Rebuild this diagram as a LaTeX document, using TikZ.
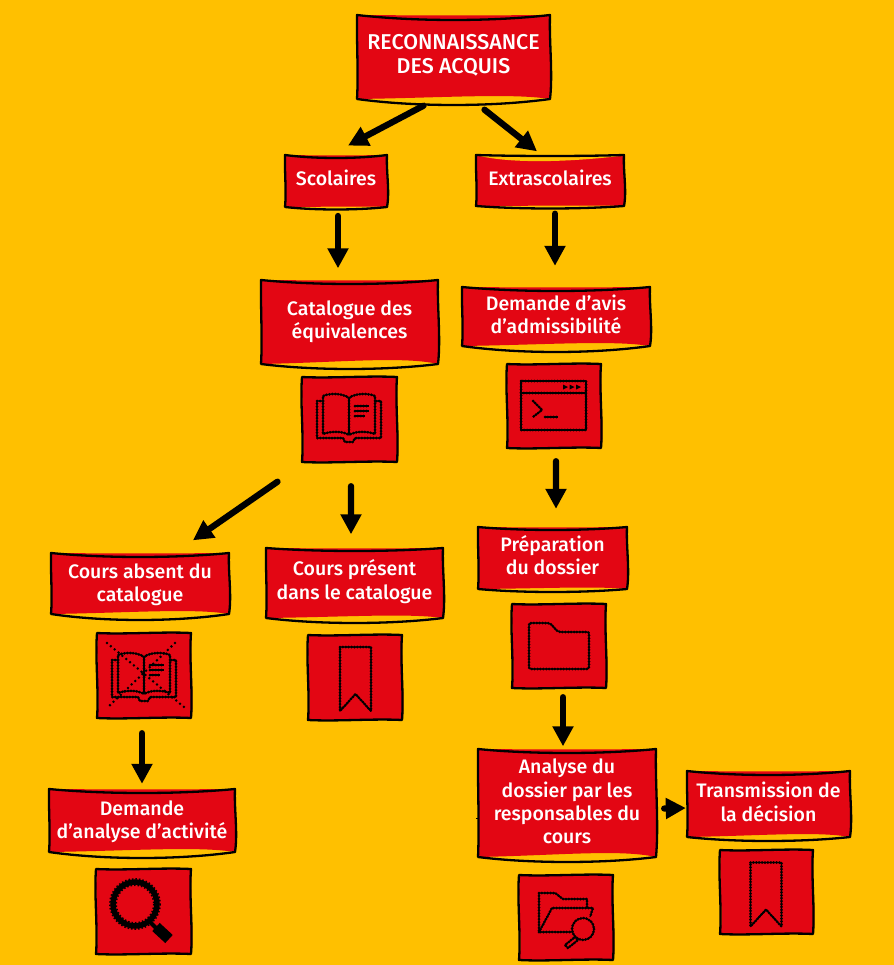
\documentclass[tikz,border=0pt]{standalone}
\usepackage{fontspec}
\setmainfont{Fira Sans Medium}
\usetikzlibrary{arrows.meta,calc}
\definecolor{bgy}{HTML}{FFC000}
\definecolor{redb}{HTML}{E30613}
\tikzset{
  outl/.style={draw=black,line width=2.3bp,line join=round},
  arr/.style={draw=black,line width=6.3bp,line cap=round,-{Triangle[width=20bp,length=20bp]}},
  ic/.style={draw=black,line width=1.2bp,line join=round,preaction={draw=black,line width=3bp,line cap=round,dash pattern=on 0pt off 2.9bp}},
  dotx/.style={draw=black,line width=2.8bp,line cap=round,dash pattern=on 0pt off 5bp},
  lab/.style={inner sep=0pt,align=center,text=white,font=\fontsize{19.6}{23.5}\selectfont},
  icn/.style={inner sep=0pt}
}
\let\lbhook\relax
\def\tdy{0}
\newcommand\bigt{\fontsize{21.5}{24}\selectfont}
% label box: name x1 y1 x2 y2 sagtop sagbottom lift text
\newcommand\lbox[9]{%
  \pgfmathsetmacro\ww{#4-#2}\pgfmathsetmacro\hh{#5-#3}%
  \pgfmathsetmacro\cx{(#4+#2)/2}\pgfmathsetmacro\cy{(#5+#3)/2}%
  \pgfmathsetmacro\ta{#2+.3*\ww}\pgfmathsetmacro\tb{#2+.7*\ww}%
  \pgfmathsetmacro\tc{#2+.45*\ww}\pgfmathsetmacro\td{#2+.8*\ww}%
  \pgfmathsetmacro\ya{#3+#6*1.33}\pgfmathsetmacro\yb{#5+#7*1.33}\pgfmathsetmacro\yc{#5-#8*2}\pgfmathsetmacro\ycc{#5-#8*.4}%
  \pgfmathsetmacro\yd{#3+.3*\hh}\pgfmathsetmacro\ye{#3+.7*\hh}%
  \pgfmathsetmacro\xr{#4+3}\pgfmathsetmacro\xq{#4-1}\pgfmathsetmacro\xl{#2+1.5}\pgfmathsetmacro\xm{#2-.5}%
  \pgfmathsetmacro\yf{#3+.5}\pgfmathsetmacro\xs{#4+3.5}%
  \fill[redb] (#2,#3) .. controls (\ta,\yf) and (\tb,\yf) .. (#4,#3)
     .. controls (\xq,\yd) and (\xs,\ye) .. (#4,#5)
     .. controls (\td,\yc) and (\tc,\ycc) .. (#2,#5) .. controls (\xl,\ye) and (\xm,\yd) .. (#2,#3) -- cycle;
  \lbhook
  \draw[outl] (#2,#3) .. controls (\ta,\ya) and (\tb,\ya) .. (#4,#3)
     .. controls (\xq,\yd) and (\xr,\ye) .. (#4,#5)
     .. controls (\tb,\yb) and (\ta,\yb) .. (#2,#5) .. controls (\xl,\ye) and (\xm,\yd) .. (#2,#3) -- cycle;
  \node[lab,minimum width=\ww bp,minimum height=\hh bp,yshift=\tdy bp] (#1) at (\cx,\cy) {#9};
}
% icon box: name x1 y1 x2 y2
\newcommand\ibox[5]{%
  \pgfmathsetmacro\ww{#4-#2}\pgfmathsetmacro\hh{#5-#3}%
  \pgfmathsetmacro\cx{(#4+#2)/2}\pgfmathsetmacro\cy{(#5+#3)/2}%
  \pgfmathsetmacro\ta{#2+.3*\ww}\pgfmathsetmacro\tb{#2+.7*\ww}%
  \pgfmathsetmacro\yd{#3+.3*\hh}\pgfmathsetmacro\ye{#3+.7*\hh}%
  \pgfmathsetmacro\yu{#3+1.5}\pgfmathsetmacro\yv{#3-1.5}\pgfmathsetmacro\yp{#5-1.5}\pgfmathsetmacro\yq{#5+1.5}%
  \pgfmathsetmacro\xa{#4-2}\pgfmathsetmacro\xb{#4+2}\pgfmathsetmacro\xc{#2+2}\pgfmathsetmacro\xd{#2-2}%
  \fill[redb,xshift=.8bp,yshift=.5bp] (#2,#3) .. controls (\ta,\yu) and (\tb,\yv) .. (#4,#3)
     .. controls (\xa,\yd) and (\xb,\ye) .. (#4,#5)
     .. controls (\tb,\yp) and (\ta,\yq) .. (#2,#5) .. controls (\xc,\ye) and (\xd,\yd) .. (#2,#3) -- cycle;
  \draw[outl] (#2,#3) .. controls (\ta,\yu) and (\tb,\yv) .. (#4,#3)
     .. controls (\xa,\yd) and (\xb,\ye) .. (#4,#5)
     .. controls (\tb,\yp) and (\ta,\yq) .. (#2,#5) .. controls (\xc,\ye) and (\xd,\yd) .. (#2,#3) -- cycle;
  \node[icn,minimum width=\ww bp,minimum height=\hh bp] (#1) at (\cx,\cy) {};
}
\newcommand\bookdraw{%
  \draw[ic] (0,-19) .. controls (-6,-24) and (-20,-24) .. (-26,-21) -- (-26,17) .. controls (-18,14) and (-6,14) .. (0,18);
  \draw[ic] (0,-19) .. controls (6,-24) and (20,-24) .. (26,-21) -- (26,17) .. controls (18,14) and (6,14) .. (0,18);
  \draw[ic] (0,-19) -- (0,18);
  \draw[ic] (-26,-16) -- (-32,-16) -- (-32,21) -- (-6,21) -- (-4,25) -- (4,25) -- (6,21) -- (32,21) -- (32,-16) -- (26,-16);
  \draw[ic] (6,-11) -- (20,-11) (6,-6) -- (20,-6) (6,-1) -- (16,-1);
}
\newcommand\bmdraw[1]{%
  \begin{scope}[shift={#1}]
  \draw[ic] (-15.5,-32) -- (15.5,-32) -- (15.5,32) -- (0,15) -- (-15.5,32) -- cycle;
  \end{scope}
}
\begin{document}
\begin{tikzpicture}[x=1bp,y=-1bp]
\useasboundingbox (0,0) rectangle (894,965);
\fill[bgy] (0,0) rectangle (894,965);

\def\tdy{1.5}
\lbox{rec}{357}{15}{550}{99}{5}{6}{3}{\bigt RECONNAISSANCE\\\bigt DES ACQUIS}
\def\tdy{3.2}
\lbox{sco}{285}{155}{387}{207}{3}{2.5}{.5}{Scolaires}
\def\lbhook{\fill[bgy] (476,155) .. controls (505,163) and (560,163) .. (620,156) -- cycle;}
\def\tdy{2.5}
\lbox{ext}{476}{155}{624}{206}{1}{2.5}{.5}{Extrascolaires}
\let\lbhook\relax
\def\tdy{.5}
\lbox{cat}{261}{280}{438}{364}{4}{5}{4}{Catalogue des\\équivalences}
\def\tdy{2}
\lbox{dem}{462}{287}{650}{346}{4}{6}{3}{Demande d’avis\\d’admissibilité}
\def\tdy{3}
\lbox{prep}{478}{527}{627}{589}{3}{3}{1.5}{Préparation\\du dossier}
\def\tdy{-1.5}
\lbox{abs}{51}{553}{229}{614}{4}{6}{3}{Cours absent du\\catalogue}
\def\tdy{1.5}
\lbox{pres}{266}{548}{443}{618}{3}{5}{2.5}{Cours présent\\dans le catalogue}
\def\tdy{-1}
\lbox{dema}{49}{789}{235}{852}{4}{6}{3}{Demande\\d’analyse d’activité}
\def\tdy{1.5}
\lbox{ana}{478}{749}{656}{857}{4}{5}{4}{Analyse du\\dossier par les\\responsables du\\cours}
\def\tdy{2}
\lbox{tra}{687}{771}{850}{837}{4}{4}{3}{Transmission de\\la décision}

\ibox{ibook}{302}{377}{397}{462}
\ibox{iterm}{507}{364}{601}{448}
\ibox{ifold}{512}{604}{606}{688}
\ibox{ixb}{97}{633}{191}{718}
\ibox{ibm}{308}{635}{402}{720}
\ibox{imag}{96}{869}{191}{954}
\ibox{ifm}{519}{875}{613}{960}
\ibox{ibmb}{720}{850}{813}{934}

% book
\begin{scope}[shift={(349,417)}]\bookdraw\end{scope}
% crossed book
\begin{scope}[shift={(144,676)}]\bookdraw\end{scope}
\draw[dotx] (107,643) -- (184,707) (175,643) -- (107,708);
% terminal
\draw[ic] (521,381) rectangle (586,430);
\draw[ic] (521,393) -- (586,393);
\fill (563,384.5) -- (568,387) -- (563,389.5) -- cycle (569.5,384.5) -- (574.5,387) -- (569.5,389.5) -- cycle (576,384.5) -- (581,387) -- (576,389.5) -- cycle;
\draw[ic] (533,401) -- (542,410) -- (533,417);
\draw[ic] (545,417) -- (558,417);
% folder
\draw[ic,rounded corners=2bp] (529,623) -- (550,623) -- (558,632) -- (589,632) -- (589,669) -- (529,669) -- cycle;
% bookmarks
\bmdraw{(355.5,679)}
\bmdraw{(766,894.5)}
% magnifier
\draw[black,line width=5.5bp] (135,904) circle[radius=22];
\draw[black,line width=1.5bp,dash pattern=on 1.5bp off 2bp] (135,904) circle[radius=25.2];
\draw[black,line width=1.5bp,dash pattern=on 1.5bp off 2bp] (135,904) circle[radius=18.8];
\draw[black,line width=4bp] (150,922) -- (158,930);
\draw[black,line width=11bp] (156,927) -- (169,939);
% folder with magnifier
\draw[ic] (587,907) -- (587,899) -- (563,899) -- (555,893) -- (539,893) -- (539,932) -- (572,932);
\draw[ic] (539,932) -- (552,908) -- (593,908) -- (590,917);
\draw[ic] (583,929) circle[radius=11];
\draw[ic] (575,937) -- (578,940) -- (568,948) -- (565,945) -- cycle;

% connectors
\draw[arr] ($(rec.south)+(-30,8)$) -- ($(sco.north)+(12,-6)$);
\draw[arr] ($(rec.south)+(31,12)$) -- ($(ext.north)+(-13,-1)$);
\draw[arr] ($(sco.south)+(2,12)$) -- ($(cat.north)+(-11.5,-11)$);
\draw[arr] ($(ext.south)+(5,10)$) -- ($(dem.north)+(-1,-19)$);
\draw[arr] ($(ibook.south)+(-72,19.5)$) -- ($(abs.north)+(53,-14)$);
\draw[arr] ($(ibook.south)+(1.5,24)$) -- ($(pres.north)+(-3.5,-12)$);
\draw[arr] ($(iterm.south)+(2,13)$) -- ($(prep.north)+(3.5,-15)$);
\draw[arr] ($(ifold.south)+(4,9)$) -- ($(ana.north)+(-4,-1)$);
\draw[arr] ($(ixb.south)+(-2,15)$) -- ($(dema.north)+(0,-6)$);
\draw[arr] ($(ana.east)+(8,7)$) -- ($(tra.west)+(-1,6)$);
\draw[black,line width=1bp] ($(ana.west)+(-2,17)$) -- ($(ana.west)+(1,17)$);
\end{tikzpicture}
\end{document}
